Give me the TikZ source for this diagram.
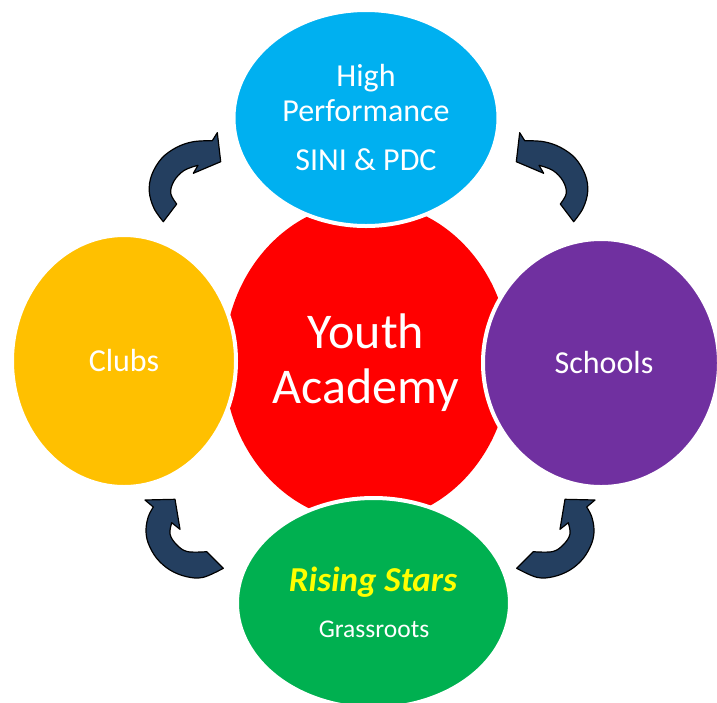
\documentclass[tikz,border=0pt]{standalone}
\usepackage{fontspec}
\setmainfont{Carlito}
\usetikzlibrary{shapes.geometric}
\definecolor{hpblue}{HTML}{00B0F0}
\definecolor{yared}{HTML}{FF0000}
\definecolor{clubyellow}{HTML}{FFC000}
\definecolor{schoolpurple}{HTML}{7030A0}
\definecolor{rsgreen}{HTML}{00B050}
\definecolor{staryellow}{HTML}{FFFF00}
\definecolor{arrownavy}{HTML}{243F60}
\newcommand\arrowTLpath{(217.3,132.7) -- (220.7,161.7) -- (193.3,173.3) -- (198,165.3)
  -- plot[smooth,tension=0.6] coordinates {(198,165.3) (184,170.5) (174,181) (170.7,193.3) (176.7,204)}
  -- (163.3,221.7)
  -- plot[smooth,tension=0.6] coordinates {(163.3,221.7) (154,208.3) (149.3,191.7) (151.7,175) (161.7,158.3) (176.7,147.3) (193.3,141.7) (212.3,140.7)}
  -- cycle}
\newcommand\arrowBLpath{(145,500) -- (175,499.3) -- (180,529.3) -- (171.7,522.7)
  -- plot[smooth,tension=0.6] coordinates {(171.7,522.7) (170,534) (176,544) (187,551.5) (206.7,551.7)}
  -- (223.3,568.3)
  -- plot[smooth,tension=0.6] coordinates {(223.3,568.3) (203.3,577.3) (186.7,576.7) (170,570) (156.7,558.3) (148.3,543.3) (146,530) (148.3,516.7) (153.3,507)}
  -- cycle}
\tikzset{
  blob/.style={ellipse, draw=white, line width=4pt, inner sep=0pt},
  label/.style={text=white, anchor=base, inner sep=0pt},
  curvearrow/.style={fill=arrownavy, draw=black, line width=1.2pt, line join=round}
}
\begin{document}
\begin{tikzpicture}[x=1pt,y=-1pt]
\useasboundingbox (0,0) rectangle (717,702);
\fill[white] (0,0) rectangle (717,702);
% centre
\node[ellipse, fill=yared, minimum width=286pt, minimum height=320pt, inner sep=0pt] (core) at (367,362) {};
% outer ellipses
\node[blob, fill=hpblue, minimum width=265pt, minimum height=216pt] (hp) at (366,118) {};
\node[blob, fill=clubyellow, minimum width=224pt, minimum height=252pt] (clubs) at (124,361) {};
\node[blob, fill=schoolpurple, minimum width=236pt, minimum height=248pt] (schools) at (601,363) {};
\node[blob, fill=rsgreen, minimum width=273pt, minimum height=210pt] (rs) at (373.5,603) {};
% texts
\node[label, font=\fontsize{32}{32}\selectfont] (t1) at (366,86) {High};
\node[label, font=\fontsize{32}{32}\selectfont] (t2) at (366,121.7) {Performance};
\node[label, font=\fontsize{32}{32}\selectfont] (t3) at (366,170) {SINI \& PDC};
\node[label, font=\fontsize{50}{50}\selectfont] (t4) at (366,348) {Youth};
\node[label, font=\fontsize{50}{50}\selectfont] (t5) at (366,403) {Academy};
\node[label, font=\fontsize{32}{32}\selectfont] (t6) at (124,371.7) {Clubs};
\node[label, font=\fontsize{32}{32}\selectfont] (t7) at (604,373) {Schools};
\node[label, text=staryellow, font=\fontsize{35}{35}\selectfont\bfseries\itshape] (t8) at (373,591.7) {Rising Stars};
\node[label, font=\fontsize{25.5}{25.5}\selectfont] (t9) at (374,637.7) {Grassroots};
% curved arrows
\fill[curvearrow] \arrowTLpath;
\begin{scope}[shift={(737,0)}, xscale=-1]
\fill[curvearrow] \arrowTLpath;
\end{scope}
\fill[curvearrow] \arrowBLpath;
\begin{scope}[shift={(740,0)}, xscale=-1]
\fill[curvearrow] \arrowBLpath;
\end{scope}
\end{tikzpicture}
\end{document}
